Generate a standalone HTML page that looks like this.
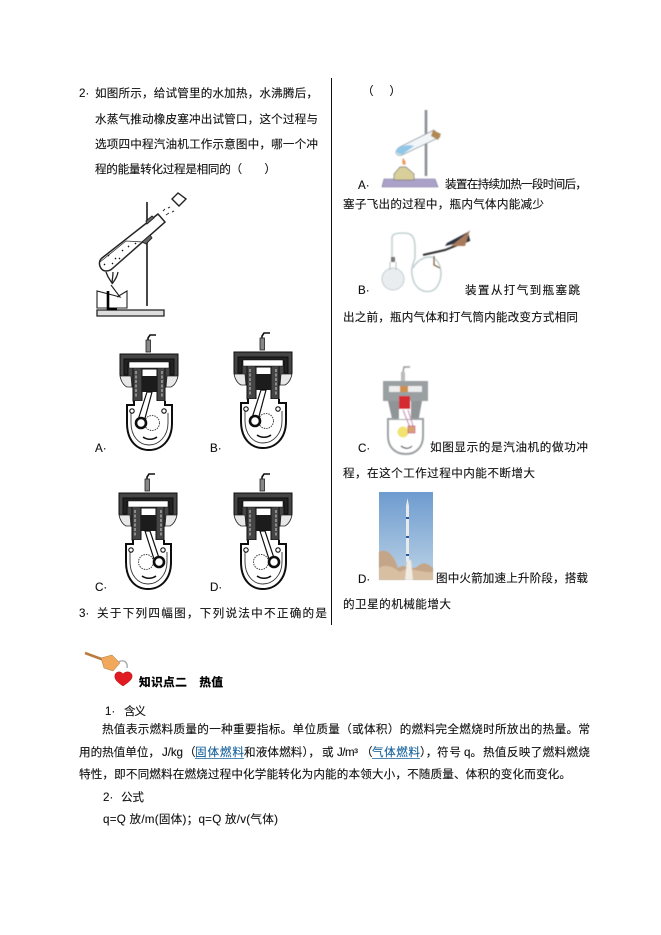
<!DOCTYPE html>
<html lang="zh"><head><meta charset="utf-8"><style>
html,body{margin:0;padding:0;background:#fff}
svg{display:block}
text{font-family:"Liberation Sans","Noto Sans CJK SC",sans-serif;font-size:11.6px;fill:#111;stroke:#111;stroke-width:.12}
.b{font-weight:700;fill:#000;stroke:#000;stroke-width:.3}
.l{fill:#17629c;stroke:#17629c}
</style></head><body>
<svg width="661" height="935" viewBox="0 0 661 935" xmlns="http://www.w3.org/2000/svg">
<defs>
<filter id="s"><feGaussianBlur stdDeviation=".35"/></filter>
<filter id="s2"><feGaussianBlur stdDeviation=".6"/></filter>
<linearGradient id="sky" x1="0" y1="0" x2="0" y2="1"><stop offset="0" stop-color="#6d9bcf"/><stop offset="1" stop-color="#bcd3e6"/></linearGradient>
<g id="eng" fill="none" stroke="#111" filter="url(#s)">
  <path d="M36 0H30L28 3V15" stroke-width="1.6"/><rect x="26" y="5" width="4.5" height="12" fill="#888" stroke="#222" stroke-width=".8"/>
  <path d="M0 40V19H58V40L46 52H38V34H21V52H12Z" fill="#444" stroke="#111" stroke-width="1"/>
  <path d="M4 40V24H54V40H50V28H8V40Z" fill="#222"/>
  <path d="M9 27H49V33H9Z" fill="#fff" stroke="#111" stroke-width=".6"/>
  <path d="M0 41H11L12 52H7C3 50 1 46 0 41ZM58 41H47L46 52H51C55 50 57 46 58 41Z" fill="#e8e8e8" stroke="#222" stroke-width=".8"/>
  <path d="M13 33V66H22V34M45 33V66H37V34" fill="#444" stroke="#111" stroke-width="1"/>
  <path d="M16 36V63M42 36V63" stroke="#bbb" stroke-width="1.2" stroke-dasharray="3 1.5"/>
  <rect x="22" y="41" width="15" height="16" fill="#1c1c1c" stroke="none"/>
  <path d="M14 66V70H7V88C7 106 17 115 29 115C41 115 52 106 52 88V70H45V66" fill="#fff" stroke="#111" stroke-width="2"/>
  <path d="M11 78V88C11 101 19 110 29 110C39 110 48 101 48 88V78" stroke="#333" stroke-width=".9"/>
  <path d="M23 102C27 105 33 105 37 102" stroke-width="1.6"/>
  <circle cx="12" cy="76" r="2.2" fill="#fff" stroke-width="1.1"/><circle cx="44" cy="76" r="2.2" fill="#fff" stroke-width="1.1"/>
</g>
<g id="rodL" fill="none" stroke="#111" filter="url(#s)">
  <circle cx="32" cy="88" r="7.5" fill="#fff" stroke="#444" stroke-width="1" stroke-dasharray="1.5 1"/>
  <path d="M27 57L18 85L24 87L32 57Z" stroke-width="1.2" fill="#fff"/>
  <circle cx="21" cy="88" r="5" fill="#fff" stroke-width="2.6"/>
</g>
<g id="rodR" fill="none" stroke="#111" filter="url(#s)">
  <circle cx="27" cy="88" r="7.5" fill="#fff" stroke="#444" stroke-width="1" stroke-dasharray="1.5 1"/>
  <path d="M26 57L35 85L41 87L31 57Z" stroke-width="1.2" fill="#fff"/>
  <circle cx="40" cy="88" r="5" fill="#fff" stroke-width="2.6"/>
</g>
</defs>
<rect width="661" height="935" fill="#fff"/>
<line x1="331.5" y1="78" x2="331.5" y2="625" stroke="#111" stroke-width="1"/>

<!-- left question -->
<text x="79" y="97">2·</text>
<text x="95" y="97" textLength="223">如图所示，给试管里的水加热，水沸腾后，</text>
<text x="95" y="123" textLength="223">水蒸气推动橡皮塞冲出试管口，这个过程与</text>
<text x="95" y="148" textLength="223">选项四中程汽油机工作示意图中，哪一个冲</text>
<text x="95" y="173" textLength="181">程的能量转化过程是相同的（　　）</text>

<!-- test tube figure -->
<g filter="url(#s)" fill="none" stroke="#222">
  <path d="M147 202V306" stroke="#333" stroke-width="1.8"/>
  <path d="M97 310H164V316H97Z" fill="#ddd" stroke="#222" stroke-width="1.3"/>
  <path d="M158 214L102 258C97 262 100 271 106 271C109 271 111 270 113 268L165 222Z" fill="#fff" stroke-width="1.5"/>
  <path d="M126 241L100 262M126 241L143 242L111 270" fill="none" stroke="#333" stroke-width=".8"/>
  <path d="M108 255l1 1M115 258l1 1M122 250l1 1M128 246l1 1M112 263l1 1M119 258l1 1M135 243l1 1M104 264l1 1" stroke="#111" stroke-width="1.3"/>
  <path d="M146 221L152 216L154 218L147 224ZM142 242L150 235L152 238L146 244Z" fill="#666" stroke-width=".9"/>
  <path d="M172 199L179 206L186 199L178 193Z" fill="#fff" stroke-width="1.4"/>
  <path d="M163 211l2-2M166 215l3-2M168 208l2-1M172 212l2-1" stroke-width="1" stroke="#333"/>
  <path d="M106 272C108 278 110 280 112 283M113 272C113 278 112 280 112 283M118 272C117 278 114 281 112 284" stroke-width="1.3"/>
  <path d="M111 285L120 297L97 291L97 308H127V291L117 297" stroke-width="1.1"/>
  <path d="M108 291V309H117" stroke="#000" stroke-width="2.6"/>
</g>

<use href="#eng" x="120" y="335"/><use href="#rodL" x="120" y="335"/>
<use href="#eng" x="234" y="333"/><use href="#rodL" x="234" y="333"/>
<use href="#eng" x="119" y="474"/><use href="#rodR" x="119" y="474"/>
<use href="#eng" x="234" y="474"/><use href="#rodR" x="234" y="474"/>

<text x="95" y="452">A·</text>
<text x="210" y="452">B·</text>
<text x="95" y="591">C·</text>
<text x="210" y="591">D·</text>
<text x="79" y="617">3·</text>
<text x="97" y="617" textLength="230">关于下列四幅图，下列说法中不正确的是</text>

<!-- right column -->
<text x="362" y="95" textLength="39">（　　）</text>

<!-- flask on stand colored -->
<g filter="url(#s2)" fill="none">
  <path d="M426 110V176" stroke="#8a8f95" stroke-width="2.6"/>
  <path d="M384 179H435L438 187H382Z" fill="#aaa2c8" stroke="#7a7399" stroke-width=".6"/>
  <path d="M434 130L400 147C393 151 396 157 402 155L440 137Z" fill="#f2f6f8" stroke="#8d9aa3" stroke-width=".8"/>
  <path d="M396 150C400 146 408 144 414 146L403 154C399 155 396 153 396 150Z" fill="#8fc7e8"/>
  <path d="M433 130L441 134L438 140L431 136Z" fill="#b08a54"/>
  <path d="M403 158C401 163 403 165 404 165C406 165 407 162 403 158Z" fill="#e9a06a"/>
  <path d="M400 167L394 174V180H414V174L406 167Z" fill="#d9cf9a" stroke="#777" stroke-width=".7"/>
</g>
<text x="358" y="189">A·</text>
<text x="445" y="188" textLength="142">装置在持续加热一段时间后，</text>
<text x="343" y="208" textLength="201">塞子飞出的过程中，瓶内气体内能减少</text>

<!-- flask + pump -->
<g filter="url(#s2)" fill="none">
  <path d="M392 238C392 234 396 233 404 233C412 233 415 237 415 248V258C412 266 410 272 414 282C418 292 432 296 438 285C444 274 440 262 434 258C430 255 418 258 413 268" stroke="#c4d1d2" stroke-width="1.6"/>
  <path d="M392 238V258" stroke="#c9d2d4" stroke-width="1.6"/>
  <rect x="391" y="257" width="4" height="5" fill="#777"/>
  <circle cx="393" cy="279" r="11" fill="#e9edf0" stroke="#b8c2c7" stroke-width=".8"/>
  <path d="M390 262V270M396 262V270" stroke="#b8c2c7"/>
  <path d="M423 255L445 250L470 240" stroke="#333" stroke-width="2"/>
  <path d="M445 246L470 240L468 232L447 243Z" fill="#2b3040"/>
  <path d="M451 246L466 234L470 230L465 246Z" fill="#a87a5b"/>
  <path d="M434 256V265L440 268" stroke="#7a5a3a" stroke-width="1.2"/>
</g>
<text x="358" y="294">B·</text>
<text x="465" y="294" textLength="115">装置从打气到瓶塞跳</text>
<text x="343" y="321" textLength="235">出之前，瓶内气体和打气筒内能改变方式相同</text>

<!-- colored engine -->
<g filter="url(#s2)">
  <path d="M410 367H404L403 372V382" fill="none" stroke="#999" stroke-width="1.4"/>
  <rect x="401" y="372" width="4" height="12" fill="#bbb"/>
  <rect x="383" y="381" width="45" height="20" fill="#9a9fa1"/>
  <rect x="389" y="386" width="33" height="6" fill="#eee"/>
  <rect x="400" y="386" width="8" height="6" fill="#cf8f4f"/>
  <path d="M388 401H399V423H393ZM422 401H411V423H418Z" fill="#8f9496"/>
  <rect x="399" y="396" width="11" height="13" fill="#d62a30"/>
  <path d="M388 419H423V436C423 447 416 454 406 454C395 454 388 447 388 436Z" fill="#fff" stroke="#9a9fa1" stroke-width="2"/>
  <rect x="399" y="409" width="11" height="10" fill="#fff"/>
  <path d="M403 410L411 430M408 410L414 429" stroke="#c993b5" stroke-width="1.2"/>
  <circle cx="403" cy="432" r="5.5" fill="#f1e36d"/>
  <rect x="408" y="426" width="7" height="7" fill="#d9a06f" stroke="#c45a8d" stroke-width=".7"/>
  <path d="M401 446C405 449 409 449 412 446" fill="none" stroke="#333" stroke-width="1.2"/>
</g>
<text x="358" y="452">C·</text>
<text x="430" y="451" textLength="158">如图显示的是汽油机的做功冲</text>
<text x="343" y="477" textLength="192">程，在这个工作过程中内能不断增大</text>

<!-- rocket photo -->
<rect x="379" y="492" width="54" height="88" fill="url(#sky)"/>
<g filter="url(#s2)">
  <path d="M379 552C386 547 394 555 398 568C405 562 412 572 418 566C425 560 430 566 433 568V580H379Z" fill="#c4a587"/>
  <path d="M379 568C386 563 395 568 400 572C408 566 420 573 433 572V580H379Z" fill="#d8bfa2"/>
  <path d="M405 580L407 560H411L413 580Z" fill="#f1ece4"/>
</g>
<path d="M406 506L407.5 498L409 506V562H406Z" fill="#e8e9ea"/>
<path d="M406 517h3v2h-3zM406 536h3v2h-3zM406 554h3v2h-3z" fill="#2c5a96"/>
<text x="358" y="583">D·</text>
<text x="436" y="582" textLength="152">图中火箭加速上升阶段，搭载</text>
<text x="343" y="608" textLength="108">的卫星的机械能增大</text>

<!-- section -->
<g filter="url(#s)">
  <path d="M85 653L104 660" stroke="#b97b3f" stroke-width="2.6"/>
  <path d="M101 658L112 655L120 663L113 671L104 668Z" fill="#f1a85a" stroke="#a8773c" stroke-width=".5"/>
  <path d="M118 662C124 659 128 662 127 668" fill="none" stroke="#aaa" stroke-width="1.4"/>
  <path d="M123 686C117 682 114 679 115 675C116 671 121 671 123 674C125 671 131 671 132 675C133 679 129 682 123 686Z" fill="#e01b22" stroke="#a11" stroke-width=".5"/>
</g>
<text class="b" x="139" y="686" textLength="84">知识点二　热值</text>
<text x="105" y="715">1·</text><text x="124" y="715" textLength="22">含义</text>
<text x="102" y="733" textLength="488">热值表示燃料质量的一种重要指标。单位质量（或体积）的燃料完全燃烧时所放出的热量。常</text>

<text x="79" y="756" textLength="81">用的热值单位，</text>
<text x="162" y="756" textLength="21">J/kg</text>
<text x="184" y="756">（</text>
<text class="l" x="195" y="756" textLength="49">固体燃料</text>
<line x1="195" y1="758.5" x2="244" y2="758.5" stroke="#17629c" stroke-width=".8"/>
<text x="244" y="756" textLength="76">和液体燃料），</text>
<text x="322" y="756">或</text>
<text x="337" y="756" textLength="21">J/m³</text>
<text x="361" y="756">（</text>
<text class="l" x="372" y="756" textLength="48">气体燃料</text>
<line x1="372" y1="758.5" x2="420" y2="758.5" stroke="#17629c" stroke-width=".8"/>
<text x="420" y="756">），</text>
<text x="437" y="756" textLength="24">符号</text>
<text x="464" y="756">q。</text>
<text x="483" y="756" textLength="107">热值反映了燃料燃烧</text>

<text x="79" y="778" textLength="492">特性，即不同燃料在燃烧过程中化学能转化为内能的本领大小，不随质量、体积的变化而变化。</text>
<text x="103" y="801">2·</text><text x="121" y="801" textLength="23">公式</text>
<text x="103" y="823" textLength="175">q=Q 放/m(固体)；q=Q 放/v(气体)</text>
</svg>
</body></html>
